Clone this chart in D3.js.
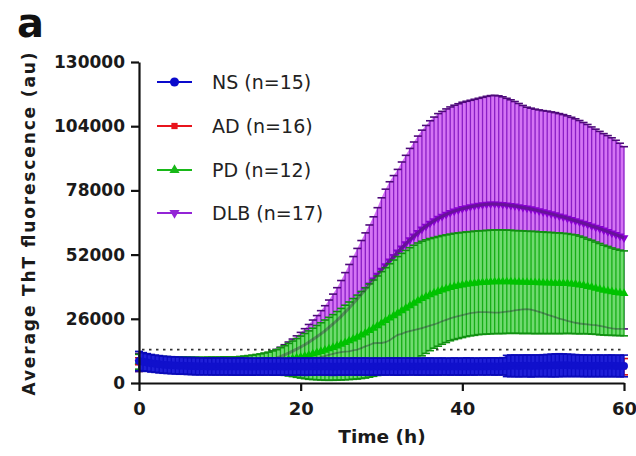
<!DOCTYPE html>
<html>
<head>
<meta charset="utf-8">
<script src="https://cdn.jsdelivr.net/npm/d3@7"></script>
<style>
  body { margin: 0; background: #fff; }
  text { font-family: "DejaVu Sans", sans-serif; }
</style>
</head>
<body>
<script>
// ---------------- DATA ----------------
const TIME_STEP = 0.5; // hours between readings, 0..60 h
const xTicks = [0, 20, 40, 60];
const yTicks = [0, 26000, 52000, 78000, 104000, 130000];
const threshold = 13500;

const seriesNames = ["NS (n=15)", "AD (n=16)", "PD (n=12)", "DLB (n=17)"];

const nsMean = [
  8900, 8600, 8300, 8000, 7800, 7600, 7400, 7300, 7200, 7100,
  7000, 6950, 6900, 6850, 6800, 6750, 6750, 6700, 6700, 6700,
  6700, 6700, 6650, 6650, 6650, 6700, 6650, 6650, 6600, 6650,
  6650, 6650, 6700, 6650, 6650, 6650, 6600, 6650, 6650, 6650,
  6650, 6600, 6650, 6650, 6700, 6650, 6650, 6650, 6600, 6650,
  6650, 6650, 6650, 6700, 6650, 6650, 6650, 6600, 6650, 6650,
  6650, 6650, 6700, 6650, 6650, 6650, 6650, 6700, 6650, 6650,
  6650, 6700, 6650, 6650, 6650, 6700, 6650, 6650, 6700, 6650,
  6650, 6700, 6700, 6650, 6700, 6700, 6700, 6750, 6700, 6700,
  6750, 6900, 6950, 6950, 6900, 6950, 6950, 6900, 6950, 6950,
  7000, 7050, 7100, 7150, 7200, 7200, 7150, 7100, 7050, 7000,
  6950, 6950, 6900, 6950, 6950, 6900, 6950, 6950, 6900, 6900,
  6900
];
const nsSd = [
  3900, 3700, 3600, 3550, 3500, 3500, 3450, 3450, 3450, 3450,
  3450, 3400, 3450, 3450, 3500, 3450, 3450, 3400, 3450, 3450,
  3450, 3450, 3400, 3450, 3450, 3500, 3450, 3450, 3450, 3400,
  3450, 3450, 3450, 3500, 3450, 3450, 3400, 3450, 3450, 3450,
  3450, 3500, 3450, 3450, 3450, 3400, 3450, 3450, 3500, 3450,
  3450, 3450, 3400, 3450, 3450, 3450, 3500, 3450, 3450, 3450,
  3400, 3450, 3450, 3450, 3500, 3450, 3450, 3450, 3400, 3450,
  3450, 3450, 3500, 3450, 3450, 3450, 3400, 3450, 3450, 3450,
  3450, 3500, 3450, 3450, 3400, 3450, 3450, 3450, 3500, 3450,
  3500, 4300, 4400, 4400, 4400, 4400, 4400, 4450, 4400, 4400,
  4450, 4500, 4600, 4650, 4650, 4600, 4550, 4500, 4450, 4400,
  4400, 4400, 4350, 4400, 4400, 4350, 4400, 4400, 4350, 4400,
  4400
];

const adMean = [
  8800, 8500, 8000, 7800, 7600, 7400, 7250, 7150, 7050, 7000,
  6900, 6800, 6700, 6650, 6600, 6550, 6500, 6450, 6450, 6450,
  6450, 6400, 6450, 6450, 6400, 6450, 6450, 6450, 6400, 6450,
  6450, 6450, 6400, 6450, 6450, 6400, 6450, 6450, 6450, 6400,
  6450, 6450, 6450, 6400, 6450, 6450, 6400, 6450, 6450, 6450,
  6400, 6450, 6450, 6450, 6400, 6450, 6450, 6450, 6400, 6450,
  6450, 6450, 6400, 6450, 6450, 6450, 6450, 6400, 6450, 6450,
  6450, 6400, 6450, 6450, 6450, 6400, 6450, 6450, 6450, 6450,
  6400, 6450, 6450, 6450, 6450, 6400, 6450, 6450, 6500, 6500,
  6550, 6600, 6600, 6650, 6600, 6650, 6650, 6600, 6650, 6650,
  6700, 6700, 6750, 6750, 6800, 6800, 6750, 6750, 6700, 6700,
  6650, 6650, 6650, 6600, 6650, 6650, 6600, 6650, 6650, 6600,
  6600
];
const adSd = [
  1400, 2200, 2900, 2800, 2800, 2800, 2700, 2700, 2650, 2600,
  2600, 2600, 2550, 2600, 2600, 2600, 2600, 2550, 2600, 2600,
  2600, 2600, 2600, 2550, 2600, 2600, 2600, 2600, 2550, 2600,
  2600, 2600, 2600, 2600, 2550, 2600, 2600, 2600, 2600, 2550,
  2600, 2600, 2600, 2600, 2600, 2550, 2600, 2600, 2600, 2600,
  2550, 2600, 2600, 2600, 2600, 2600, 2550, 2600, 2600, 2600,
  2600, 2550, 2600, 2600, 2600, 2600, 2600, 2550, 2600, 2600,
  2600, 2600, 2550, 2600, 2600, 2600, 2600, 2600, 2550, 2600,
  2600, 2600, 2600, 2550, 2600, 2600, 2600, 2600, 2600, 2650,
  2700, 3200, 3300, 3300, 3300, 3300, 3300, 3300, 3300, 3300,
  3350, 3400, 3450, 3500, 3500, 3450, 3400, 3350, 3300, 3300,
  3300, 3300, 3250, 3300, 3300, 3250, 3300, 3300, 3250, 3300,
  3300
];

const pdMean = [
  8600, 8300, 8100, 7900, 7800, 7700, 7600, 7550, 7500, 7450,
  7400, 7350, 7300, 7300, 7250, 7250, 7200, 7200, 7200, 7200,
  7200, 7200, 7200, 7200, 7200, 7250, 7300, 7400, 7500, 7600,
  7700, 7850, 8000, 8250, 8500, 8800, 9100, 9450, 9800, 10150,
  10500, 10900, 11300, 11800, 12300, 12800, 13300, 13850, 14400, 15050,
  15700, 16400, 17100, 17850, 18600, 19450, 20300, 21250, 22200, 23200,
  24300, 25300, 26300, 27300, 28300, 29300, 30300, 31300, 32300, 33300,
  34200, 35000, 35800, 36500, 37100, 37700, 38200, 38700, 39100, 39400,
  39700, 40000, 40200, 40400, 40600, 40700, 40800, 40900, 41000, 41000,
  41000, 41000, 41000, 40900, 40900, 40800, 40800, 40700, 40700, 40600,
  40600, 40500, 40500, 40400, 40400, 40300, 40300, 40100, 40000, 39700,
  39500, 39100, 38800, 38400, 38000, 37600, 37300, 37000, 36700, 36500,
  36300
];
const pdSd = [
  3000, 3000, 3000, 3000, 3000, 3100, 3100, 3100, 3100, 3100,
  3100, 3200, 3200, 3200, 3200, 3200, 3200, 3300, 3300, 3300,
  3300, 3400, 3400, 3400, 3400, 3500, 3600, 3700, 3800, 3950,
  4100, 4300, 4500, 4750, 5000, 5500, 6000, 6600, 7200, 7850,
  8500, 9150, 9800, 10400, 11000, 11600, 12200, 12750, 13300, 13900,
  14500, 15100, 15700, 16350, 17000, 17650, 18300, 18900, 19500, 20150,
  20800, 21400, 22000, 22500, 22900, 23200, 23400, 23500, 23500, 23400,
  23200, 23000, 22700, 22400, 22200, 22000, 21800, 21600, 21500, 21400,
  21300, 21200, 21100, 21100, 21000, 21000, 21000, 21000, 21000, 21000,
  21000, 20900, 20900, 20800, 20800, 20800, 20700, 20700, 20700, 20600,
  20600, 20500, 20500, 20400, 20400, 20300, 20200, 20100, 20000, 19800,
  19500, 19200, 19000, 18700, 18500, 18200, 18000, 17700, 17500, 17300,
  17200
];

const dlbMean = [
  8300, 8100, 7900, 7800, 7700, 7600, 7500, 7450, 7400, 7350,
  7300, 7250, 7200, 7150, 7100, 7050, 7000, 7000, 7000, 7000,
  7000, 7000, 7000, 7050, 7100, 7200, 7300, 7500, 7700, 8000,
  8300, 8700, 9100, 9600, 10100, 10700, 11400, 12100, 12900, 13700,
  14600, 15500, 16500, 17600, 18700, 19900, 21100, 22500, 23900, 25400,
  27000, 28700, 30400, 32200, 34000, 35900, 37800, 39700, 41700, 43600,
  45600, 47500, 49400, 51200, 53000, 54700, 56400, 58000, 59500, 60900,
  62300, 63500, 64700, 65700, 66700, 67500, 68300, 69000, 69600, 70100,
  70600, 71000, 71400, 71700, 72000, 72200, 72400, 72500, 72500, 72400,
  72300, 72100, 71900, 71700, 71400, 71100, 70800, 70500, 70100, 69700,
  69300, 68900, 68500, 68100, 67600, 67200, 66700, 66200, 65700, 65200,
  64700, 64200, 63600, 63100, 62500, 61900, 61300, 60700, 60100, 59500,
  58800
];
const dlbSd = [
  3700, 3200, 2900, 2700, 2600, 2500, 2500, 2500, 2500, 2500,
  2500, 2500, 2500, 2500, 2500, 2500, 2500, 2500, 2500, 2500,
  2500, 2500, 2500, 2500, 2500, 2500, 2500, 2600, 2700, 2800,
  2900, 3000, 3100, 3300, 3500, 3800, 4100, 4500, 4900, 5400,
  5900, 6500, 7200, 7900, 8600, 9400, 10200, 11100, 12100, 13200,
  14500, 16000, 17600, 19000, 20500, 21800, 23000, 24300, 25600, 27400,
  29400, 31000, 32100, 32800, 33500, 34800, 35800, 37000, 38100, 39100,
  40100, 40800, 41500, 42000, 42400, 42500, 42700, 42800, 42900, 43000,
  43100, 43100, 43100, 43200, 43300, 43500, 43700, 43900, 44000, 43900,
  43600, 43200, 42800, 42300, 41800, 41300, 40900, 40800, 40800, 40900,
  41000, 41200, 41300, 41400, 41500, 41500, 41500, 41400, 41300, 41100,
  40800, 40500, 40100, 39700, 39400, 39100, 38900, 38600, 38200, 37600,
  36900
];

const times = nsMean.map((_, i) => i * TIME_STEP);

// ---------------- CHART ----------------
const W = 636, H = 456;
const svg = d3.select("body").append("svg").attr("width", W).attr("height", H);
svg.append("rect").attr("width", W).attr("height", H).attr("fill", "#fff");

const x = d3.scaleLinear().domain([0, 60]).range([139, 624]);
const y = d3.scaleLinear().domain([0, 130000]).range([383, 62]);

// threshold dotted line (drawn beneath the data)
svg.append("line")
  .attr("x1", x(0) + 3).attr("x2", x(60))
  .attr("y1", y(threshold)).attr("y2", y(threshold))
  .attr("stroke", "#333").attr("stroke-width", 1.8)
  .attr("stroke-dasharray", "2.5,4.5");

const styles = {
  DLB: { bar: "#8a1ec6", cap: "#4e0a7a", tint: "#d474f4", line: "#8800d2", sym: d3.symbolTriangle, size: 34, rot: 180, legend: "#9324d6" },
  PD:  { bar: "#16ae16", cap: "#118f11", tint: "#70da70", line: "#00c200", sym: d3.symbolTriangle, size: 34, rot: 0, legend: "#18b818" },
  AD:  { bar: "#e0141c", cap: "#d01018", tint: "#f06060", line: "#e8141c", sym: d3.symbolSquare, size: 30, rot: 0, legend: "#e8141c" },
  NS:  { bar: "#0c0cc4", cap: "#0a0ab8", tint: "#2020d8", line: "#1010cc", sym: d3.symbolCircle, size: 50, rot: 0, legend: "#0a0acc" }
};

const idxOf = arr => d3.range(arr.length);

function drawSeries(mean, sd, st) {
  const idx = idxOf(mean);
  const g = svg.append("g");
  // shaded body between the error-bar ends
  g.append("path")
    .attr("d", d3.area()
      .x(i => x(times[i]))
      .y0(i => y(Math.max(0, mean[i] - sd[i])))
      .y1(i => y(mean[i] + sd[i]))(idx))
    .attr("fill", st.tint);
  // vertical error bars
  g.selectAll(null).data(idx).join("line")
    .attr("x1", i => x(times[i])).attr("x2", i => x(times[i]))
    .attr("y1", i => y(Math.max(0, mean[i] - sd[i])))
    .attr("y2", i => y(mean[i] + sd[i]))
    .attr("stroke", st.bar).attr("stroke-width", 1.3);
  // caps
  [1, -1].forEach(sign => {
    g.selectAll(null).data(idx).join("line")
      .attr("x1", i => x(times[i]) - 4).attr("x2", i => x(times[i]) + 4)
      .attr("y1", i => y(Math.max(0, mean[i] + sign * sd[i])))
      .attr("y2", i => y(Math.max(0, mean[i] + sign * sd[i])))
      .attr("stroke", st.cap).attr("stroke-width", 1.6);
  });
  // mean curve + markers
  g.append("path")
    .attr("d", d3.line().x(i => x(times[i])).y(i => y(mean[i]))(idx))
    .attr("fill", "none").attr("stroke", st.line).attr("stroke-width", 3);
  const sym = d3.symbol(st.sym, st.size);
  g.selectAll(null).data(idx).join("path")
    .attr("d", sym)
    .attr("transform", i => `translate(${x(times[i])},${y(mean[i])}) rotate(${st.rot})`)
    .attr("fill", st.line);
}

// DLB marks seen faintly through the PD error bars
function drawShowThrough(mean, sd) {
  const idx = idxOf(mean);
  const g = svg.append("g").attr("opacity", 0.42);
  g.append("path")
    .attr("d", d3.line().x(i => x(times[i])).y(i => y(mean[i] - sd[i]))(idx))
    .attr("fill", "none").attr("stroke", "#2a2a3a").attr("stroke-width", 1.8);
  g.append("path")
    .attr("d", d3.line().x(i => x(times[i])).y(i => y(mean[i]))(idx))
    .attr("fill", "none").attr("stroke", "#3a2a4a").attr("stroke-width", 3);
}

drawSeries(dlbMean, dlbSd, styles.DLB);
drawSeries(pdMean, pdSd, styles.PD);
drawShowThrough(dlbMean, dlbSd);
drawSeries(adMean, adSd, styles.AD);
drawSeries(nsMean, nsSd, styles.NS);

// ---------------- AXES ----------------
const yAxis = svg.append("g").attr("transform", `translate(${x(0)},0)`)
  .call(d3.axisLeft(y).tickValues(yTicks).tickFormat(d => String(d))
    .tickSize(8).tickSizeOuter(0).tickPadding(6));
const xAxis = svg.append("g").attr("transform", `translate(0,${y(0)})`)
  .call(d3.axisBottom(x).tickValues(xTicks).tickFormat(d => String(d))
    .tickSize(8).tickSizeOuter(0).tickPadding(11));
[yAxis, xAxis].forEach(a => {
  a.select(".domain").attr("stroke", "#111").attr("stroke-width", 2.2);
  a.selectAll(".tick line").attr("stroke", "#111").attr("stroke-width", 2.2);
  a.selectAll("text").attr("fill", "#1a1a1a")
    .style("font-family", "'DejaVu Sans', sans-serif").style("font-weight", "bold");
});
yAxis.selectAll("text").style("font-size", "17px");
xAxis.selectAll("text").style("font-size", "18px");

// axis titles
svg.append("text")
  .attr("transform", "translate(35,224) rotate(-90)")
  .attr("text-anchor", "middle")
  .attr("textLength", 343).attr("lengthAdjust", "spacing")
  .style("font-size", "17px").style("font-weight", "bold").attr("fill", "#1a1a1a")
  .text("Average ThT fluorescence (au)");
svg.append("text")
  .attr("x", 382).attr("y", 443).attr("text-anchor", "middle")
  .style("font-size", "18.5px").style("font-weight", "bold").attr("fill", "#1a1a1a")
  .text("Time (h)");

// panel label
svg.append("text").attr("x", 17).attr("y", 37)
  .style("font-size", "40px").style("font-weight", "bold").attr("fill", "#111")
  .text("a");

// ---------------- LEGEND ----------------
const legendKeys = ["NS", "AD", "PD", "DLB"];
const legendY = [82, 126, 170, 213];
const lg = svg.append("g");
legendKeys.forEach((k, i) => {
  const st = styles[k];
  const yy = legendY[i];
  lg.append("line").attr("x1", 157).attr("x2", 192).attr("y1", yy).attr("y2", yy)
    .attr("stroke", st.legend).attr("stroke-width", 2.2);
  lg.append("path").attr("d", d3.symbol(st.sym, st.size * 1.3))
    .attr("transform", `translate(174.5,${yy}) rotate(${st.rot})`)
    .attr("fill", st.legend);
  lg.append("text").attr("x", 212).attr("y", yy).attr("dy", "0.36em")
    .style("font-size", "19px").attr("fill", "#222")
    .text(seriesNames[i]);
});
</script>
</body>
</html>
